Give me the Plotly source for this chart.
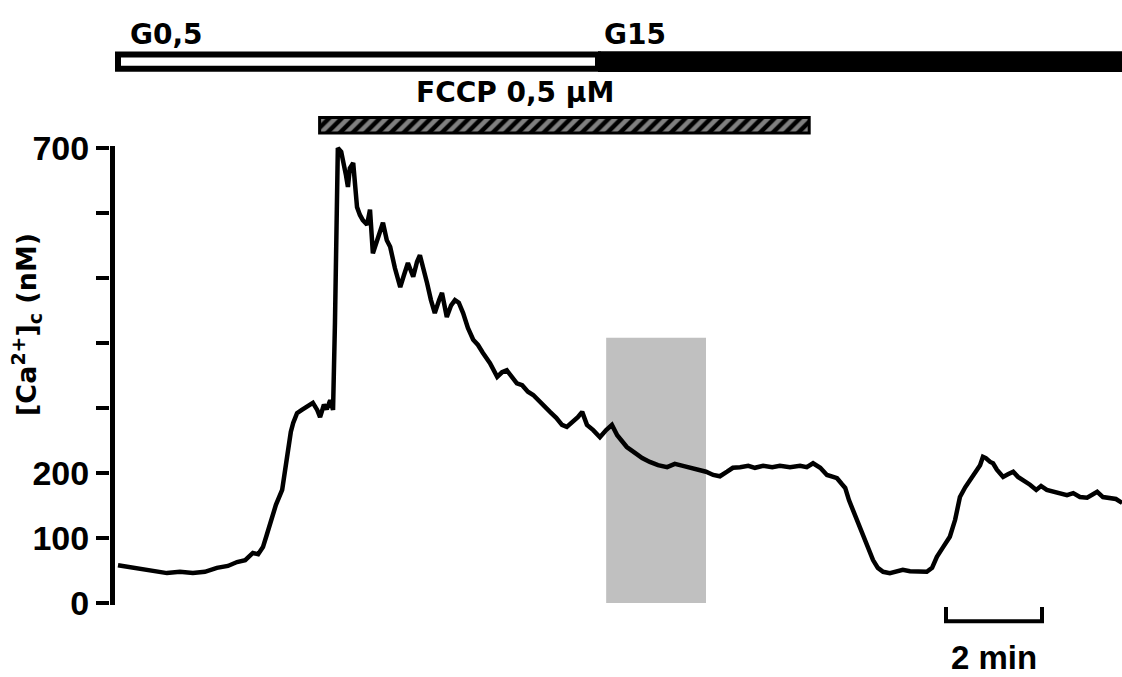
import plotly.graph_objects as go

# ---- data (time in min, [Ca2+]c in nM) ----
time_min = [0.00, 0.25, 0.52, 0.77, 1.02, 1.29, 1.56, 1.81, 2.06, 2.29, 2.48, 2.65, 2.81, 2.92,
            3.02, 3.10, 3.17, 3.29, 3.42, 3.48, 3.54, 3.60, 3.65, 3.73, 3.83, 3.94, 4.06, 4.15,
            4.21, 4.29, 4.35, 4.42, 4.48, 4.52, 4.56, 4.58, 4.65, 4.69, 4.75, 4.79, 4.83, 4.90,
            4.94, 4.98, 5.04, 5.10, 5.19, 5.25, 5.31, 5.40, 5.46, 5.52, 5.60, 5.67, 5.77, 5.88,
            5.96, 6.04, 6.15, 6.23, 6.29, 6.38, 6.44, 6.52, 6.60, 6.69, 6.75, 6.85, 6.94, 7.02,
            7.10, 7.19, 7.29, 7.40, 7.50, 7.60, 7.75, 7.90, 8.00, 8.10, 8.21, 8.31, 8.42, 8.54,
            8.65, 8.79, 8.90, 9.00, 9.13, 9.25, 9.35, 9.46, 9.58, 9.67, 9.77, 9.90, 10.04, 10.17,
            10.29, 10.40, 10.50, 10.60, 10.77, 10.92, 11.08, 11.25, 11.44, 11.60, 11.77, 11.92,
            12.08, 12.25, 12.40, 12.54, 12.69, 12.81, 12.96, 13.13, 13.27, 13.44, 13.63, 13.79,
            14.00, 14.21, 14.35, 14.48, 14.63, 14.77, 14.90, 14.98, 15.08, 15.15, 15.23, 15.31,
            15.42, 15.52, 15.63, 15.73, 15.83, 15.94, 16.08, 16.23, 16.35, 16.50, 16.67, 16.85,
            16.96, 17.06, 17.19, 17.33, 17.44, 17.54, 17.65, 17.75, 17.88, 17.96, 18.02, 18.08,
            18.17, 18.23, 18.31, 18.44, 18.54, 18.65, 18.75, 18.88, 19.00, 19.13, 19.23, 19.35,
            19.48, 19.63, 19.77, 19.90, 20.04, 20.19, 20.31, 20.40, 20.52, 20.67, 20.79, 20.92]
ca_nM = [58, 55, 51, 49, 46, 48, 46, 48, 54, 57, 63, 66, 77, 75,
         86, 105, 123, 151, 174, 205, 240, 263, 277, 292, 297, 303, 308, 297,
         286, 305, 298, 312, 297, 431, 620, 700, 694, 682, 658, 640, 669, 677,
         643, 609, 597, 589, 582, 605, 538, 558, 571, 585, 558, 548, 515, 486,
         505, 523, 502, 525, 535, 512, 492, 466, 446, 466, 477, 440, 458, 466,
         462, 446, 423, 405, 397, 385, 369, 348, 355, 358, 346, 338, 335, 325,
         320, 309, 300, 294, 285, 274, 271, 278, 286, 294, 274, 266, 255, 266,
         274, 258, 248, 240, 231, 223, 217, 212, 209, 214, 211, 208,
         205, 202, 197, 195, 202, 208, 209, 211, 208, 211, 209, 211,
         209, 211, 209, 215, 208, 197, 194, 192, 183, 177, 158, 143,
         125, 108, 86, 66, 54, 48, 46, 49, 51, 49, 49, 48,
         54, 71, 86, 102, 128, 163, 178, 189, 205, 212, 225, 223,
         217, 215, 205, 194, 198, 202, 194, 188, 182, 174, 180, 174,
         171, 168, 166, 169, 163, 162, 168, 171, 163, 162, 160, 154]

y_label_vals = [0, 100, 200, 700]
y_label_text = ["0", "100", "200", "700"]
y_unlabelled_ticks = [300, 400, 500, 600]

# protocol (min)
g05_period = [0.0, 10.0]
g15_period = [10.0, 21.5]
fccp_period = [4.2, 14.4]
gray_period = [10.17, 12.25]
gray_top = 408
scale_bar_start = 17.25
scale_bar_len = 2.0

# ---- layout constants ----
X_RANGE = [-0.1667, 20.9167]
Y_RANGE = [-113.85, 927.69]
BAR_Y = 833
FCCP_Y = 735

fig = go.Figure()

# gray shaded region
fig.add_shape(type="rect", xref="x", yref="y",
              x0=gray_period[0], x1=gray_period[1], y0=0, y1=gray_top,
              fillcolor="#c0c0c0", line=dict(width=0), layer="below")

# calcium trace
fig.add_trace(go.Scatter(x=time_min, y=ca_nM, mode="lines",
                         line=dict(color="black", width=4.5),
                         hoverinfo="skip", showlegend=False))

# G0,5 open bar
fig.add_trace(go.Bar(orientation="h", y=[BAR_Y], base=[g05_period[0]],
                     x=[g05_period[1] - g05_period[0]], width=[22],
                     marker=dict(color="white", line=dict(color="black", width=6)),
                     hoverinfo="skip", showlegend=False))
# G15 filled bar
fig.add_trace(go.Bar(orientation="h", y=[BAR_Y], base=[g15_period[0]],
                     x=[g15_period[1] - g15_period[0]], width=[32],
                     marker=dict(color="black", line=dict(color="black", width=0)),
                     hoverinfo="skip", showlegend=False))
# FCCP hatched bar
fig.add_trace(go.Bar(orientation="h", y=[FCCP_Y], base=[fccp_period[0]],
                     x=[fccp_period[1] - fccp_period[0]], width=[24],
                     marker=dict(color="black", line=dict(color="black", width=3),
                                 pattern=dict(shape="/", fgcolor="white", size=9,
                                              solidity=0.5, fillmode="overlay")),
                     hoverinfo="skip", showlegend=False))

# y axis line (only from 0 to 700)
fig.add_shape(type="line", xref="x", yref="y", x0=-0.1146, x1=-0.1146, y0=-3, y1=703,
              line=dict(color="black", width=5))

# scale bar
sb0 = scale_bar_start
sb1 = scale_bar_start + scale_bar_len
fig.add_shape(type="path", xref="x", yref="y",
              path=f"M {sb0},-6 L {sb0},-28 L {sb1},-28 L {sb1},-6",
              line=dict(color="black", width=4))

big = dict(family="Liberation Sans, Arial, sans-serif", size=34, color="black", weight="bold")
top = dict(family="DejaVu Sans, sans-serif", size=28, color="black", weight="bold")

fig.add_annotation(x=sb0 + scale_bar_len / 2, y=-84, xref="x", yref="y", text="2 min",
                   showarrow=False, font=dict(big, size=33), xanchor="center", yanchor="middle")
fig.add_annotation(x=0.21, y=875, xref="x", yref="y", text="G0,5",
                   showarrow=False, font=top, xanchor="left", yanchor="middle")
fig.add_annotation(x=g15_period[0] + 0.08, y=875, xref="x", yref="y", text="G15",
                   showarrow=False, font=top, xanchor="left", yanchor="middle")
fig.add_annotation(x=8.28, y=786, xref="x", yref="y", text="FCCP 0,5 µM",
                   showarrow=False, font=top, xanchor="center", yanchor="middle")
fig.add_annotation(x=-0.082, y=0.52, xref="paper", yref="paper",
                   text="[Ca<sup>2+</sup>]<sub>c</sub> (nM)", textangle=-90,
                   showarrow=False, font=dict(top, size=27), xanchor="center", yanchor="middle")

fig.update_layout(
    width=1122, height=677, template="none",
    margin=dict(l=110, r=0, t=0, b=0, autoexpand=False),
    paper_bgcolor="white", plot_bgcolor="white",
    barmode="overlay", showlegend=False,
    xaxis=dict(range=X_RANGE, visible=False, fixedrange=True),
    yaxis=dict(range=Y_RANGE, showgrid=False, zeroline=False, showline=False,
               tickmode="array", tickvals=y_label_vals, ticktext=y_label_text,
               ticks="outside", ticklen=13, tickwidth=4, tickcolor="black",
               minor=dict(tickmode="array", tickvals=y_unlabelled_ticks, ticks="outside",
                          ticklen=13, tickwidth=4, tickcolor="black", showgrid=False),
               tickfont=big, automargin=False, fixedrange=True),
)

fig.write_html("out.html")
